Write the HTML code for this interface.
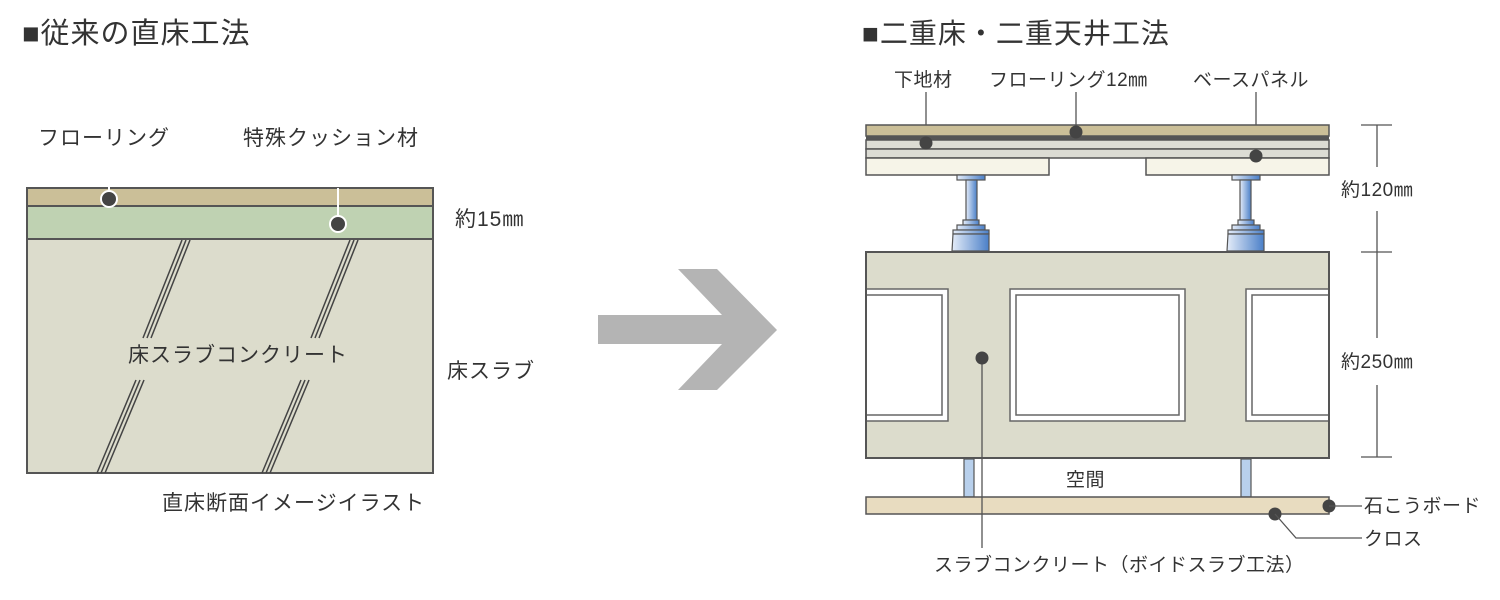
<!DOCTYPE html>
<html><head><meta charset="utf-8"><style>
html,body{margin:0;padding:0;background:#fff;}
svg{display:block;}
text{font-family:"Liberation Sans","Noto Sans CJK JP",sans-serif;fill:#333;}
.l{font-size:21px;letter-spacing:1px;}
.r{font-size:19px;letter-spacing:0.5px;}
</style></head><body>
<svg width="1500" height="600" viewBox="0 0 1500 600" xmlns="http://www.w3.org/2000/svg">
<text x="22" y="43" font-size="29" letter-spacing="1">■従来の直床工法</text>
<text x="862" y="43" font-size="28" letter-spacing="1">■二重床・二重天井工法</text>

<text x="38" y="145" class="l">フローリング</text>
<text x="243" y="145" class="l">特殊クッション材</text>
<rect x="27" y="239" width="406" height="234" fill="#dcdccc" stroke="#555" stroke-width="2"/>
<rect x="27" y="206" width="406" height="33" fill="#bfd2b2" stroke="#555" stroke-width="2"/>
<rect x="27" y="188" width="406" height="18" fill="#cbbf98" stroke="#555" stroke-width="2"/>
<line x1="109" y1="170" x2="109" y2="199" stroke="#fff" stroke-width="2"/>
<circle cx="109" cy="199" r="8" fill="#444" stroke="#fff" stroke-width="2"/>
<line x1="338" y1="188" x2="338" y2="224" stroke="#fff" stroke-width="2"/>
<circle cx="338" cy="224" r="8" fill="#444" stroke="#fff" stroke-width="2"/>
<g stroke="#444" stroke-width="1.5" fill="none">
<path d="M182,240 L143,338 M186,240 L147,338 M190,240 L151,338"/>
<path d="M350,240 L311,338 M354,240 L315,338 M358,240 L319,338"/>
<path d="M136,380 L97,473 M140,380 L101,473 M144,380 L105,473"/>
<path d="M301,380 L262,473 M305,380 L266,473 M309,380 L270,473"/>
</g>
<text x="128" y="362" class="l" letter-spacing="0.5">床スラブコンクリート</text>
<text x="455" y="226" class="l" letter-spacing="2.5">約15㎜</text>
<text x="447" y="378" class="l">床スラブ</text>
<text x="162" y="510" class="l">直床断面イメージイラスト</text>

<polygon points="598,315 722,315 678,269 717,269 777,330 717,390 678,390 722,344 598,344" fill="#b4b4b4"/>

<defs>
<linearGradient id="bl" x1="0" x2="1" y1="0" y2="0">
<stop offset="0" stop-color="#e4ecf8"/><stop offset="1" stop-color="#4a7fc8"/>
</linearGradient>
</defs>
<text x="894" y="86" class="r" letter-spacing="2">下地材</text>
<text x="989" y="86" class="r" letter-spacing="1">フローリング12㎜</text>
<text x="1193" y="86" class="r" letter-spacing="1.5">ベースパネル</text>
<g stroke="#555" stroke-width="1.3">
<line x1="926" y1="92" x2="926" y2="143"/>
<line x1="1076" y1="92" x2="1076" y2="132"/>
<line x1="1256" y1="92" x2="1256" y2="156"/>
</g>
<rect x="866" y="125" width="463" height="11" fill="#cbbf98" stroke="#555" stroke-width="1.5"/>
<rect x="866" y="136" width="463" height="4" fill="#555"/>
<rect x="866" y="140" width="463" height="9" fill="#dcdcd4" stroke="#555" stroke-width="1.5"/>
<rect x="866" y="149" width="463" height="9" fill="#dcdcd4" stroke="#555" stroke-width="1.5"/>
<rect x="866" y="158" width="183" height="17" fill="#f6f4e8" stroke="#555" stroke-width="1.5"/>
<rect x="1146" y="158" width="183" height="17" fill="#f6f4e8" stroke="#555" stroke-width="1.5"/>
<circle cx="926" cy="143" r="6.5" fill="#444"/>
<circle cx="1076" cy="132" r="6.5" fill="#444"/>
<circle cx="1256" cy="156" r="6.5" fill="#444"/>
<g stroke="#555" stroke-width="1.2" fill="url(#bl)">
<rect x="957" y="175" width="28" height="5"/>
<rect x="966" y="180" width="11" height="40"/>
<rect x="963" y="220" width="16" height="5"/>
<rect x="957" y="225" width="28" height="5"/>
<rect x="953" y="230" width="36" height="4"/>
<path d="M953,234 L989,234 L989,251 L952,251 Z"/>
<rect x="1232" y="175" width="28" height="5"/>
<rect x="1240" y="180" width="11" height="40"/>
<rect x="1238" y="220" width="16" height="5"/>
<rect x="1232" y="225" width="28" height="5"/>
<rect x="1228" y="230" width="36" height="4"/>
<path d="M1228,234 L1264,234 L1264,251 L1227,251 Z"/>
</g>
<rect x="866" y="252" width="463" height="206" fill="#dcdccc" stroke="#555" stroke-width="2"/>
<g fill="#fff" stroke="#666" stroke-width="1.5">
<rect x="866" y="289" width="82" height="132"/>
<rect x="866" y="295" width="76" height="120"/>
<rect x="1010" y="289" width="175" height="132"/>
<rect x="1016" y="295" width="163" height="120"/>
<rect x="1246" y="289" width="83" height="132"/>
<rect x="1252" y="295" width="77" height="120"/>
</g>
<line x1="866" y1="252" x2="866" y2="458" stroke="#555" stroke-width="2"/>
<line x1="1329" y1="252" x2="1329" y2="458" stroke="#555" stroke-width="2"/>
<rect x="964" y="459" width="10" height="38" fill="#b8d0ec" stroke="#555" stroke-width="1.2"/>
<rect x="1241" y="459" width="10" height="38" fill="#b8d0ec" stroke="#555" stroke-width="1.2"/>
<text x="1066" y="486" class="r" letter-spacing="1.5">空間</text>
<rect x="866" y="497" width="463" height="17" fill="#e8dcc0" stroke="#555" stroke-width="1.5"/>
<line x1="982" y1="358" x2="982" y2="548" stroke="#555" stroke-width="1.3"/>
<circle cx="982" cy="358" r="6.5" fill="#444"/>
<circle cx="1275" cy="514" r="6.5" fill="#444"/>
<circle cx="1329" cy="506" r="6.5" fill="#444"/>
<g stroke="#555" stroke-width="1.3" fill="none">
<line x1="1329" y1="506" x2="1362" y2="506"/>
<polyline points="1275,514 1296,538 1362,538"/>
</g>
<text x="1364" y="512" class="r">石こうボード</text>
<text x="1364" y="545" class="r">クロス</text>
<text x="934" y="571" class="r" letter-spacing="0">スラブコンクリート（ボイドスラブ工法）</text>
<g stroke="#555" stroke-width="1.3">
<line x1="1361" y1="125" x2="1392" y2="125"/>
<line x1="1377" y1="125" x2="1377" y2="167"/>
<line x1="1377" y1="211" x2="1377" y2="338"/>
<line x1="1361" y1="252" x2="1392" y2="252"/>
<line x1="1377" y1="385" x2="1377" y2="457"/>
<line x1="1361" y1="457" x2="1392" y2="457"/>
</g>
<text x="1341" y="196" class="r" letter-spacing="2.5">約120㎜</text>
<text x="1341" y="368" class="r" letter-spacing="2.5">約250㎜</text>
</svg>
</body></html>
